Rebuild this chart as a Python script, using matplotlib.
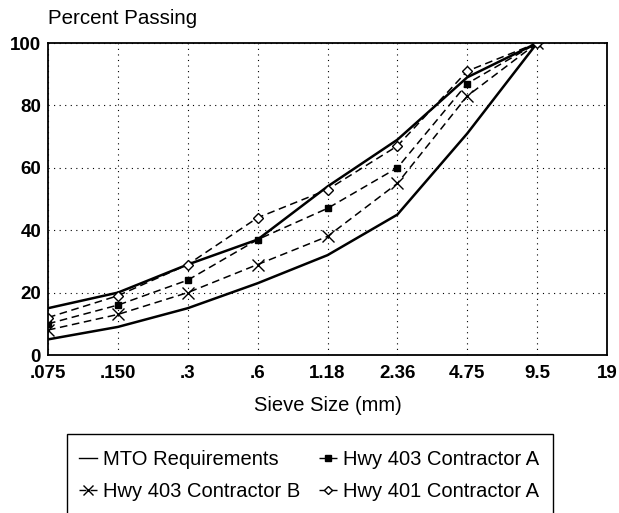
import matplotlib.pyplot as plt
from matplotlib.patches import Rectangle

plt.rcParams['font.family'] = ['Liberation Sans', 'DejaVu Sans']

sieves = ['.075', '.150', '.3', '.6', '1.18', '2.36', '4.75', '9.5', '19']

# MTO band (upper and lower limits), sieves .075 .. 9.5
mto_upper = [15, 20, 29, 37, 54, 69, 89, 100]
mto_lower = [5, 9, 15, 23, 32, 45, 71, 100]

hwy403_a = [10, 16, 24, 37, 47, 60, 87, 100]
hwy403_b = [8, 13, 20, 29, 38, 55, 83, 100]
hwy401_a = [12, 19, 29, 44, 53, 67, 91, 100]

W, H = 619, 513
fig = plt.figure(figsize=(W / 100, H / 100), dpi=100)
ax = fig.add_axes([48 / W, 1 - 355 / H, 559 / W, 312 / H])

x = list(range(len(mto_upper)))

l_mto, = ax.plot(x, mto_upper, '-', color='black', linewidth=1.8)
ax.plot(x, mto_lower, '-', color='black', linewidth=1.8)
l_a, = ax.plot(x, hwy403_a, '--', color='black', linewidth=1.1, dashes=(5, 3),
               marker='s', markersize=5, markerfacecolor='black')
l_b, = ax.plot(x, hwy403_b, '--', color='black', linewidth=1.1, dashes=(5, 3),
               marker='x', markersize=9, markeredgewidth=1.0)
l_401, = ax.plot(x, hwy401_a, '--', color='black', linewidth=1.1, dashes=(5, 3),
                 marker='D', markersize=5, markerfacecolor='white', markeredgewidth=1.0)

ax.set_xlim(0, len(sieves) - 1)
ax.set_ylim(0, 100)
ax.set_xticks(range(len(sieves)))
ax.set_xticklabels(sieves)
ax.set_yticks([0, 20, 40, 60, 80, 100])
ax.tick_params(length=0, labelsize=13.5)
ax.tick_params(axis='x', pad=7)
ax.tick_params(axis='y', pad=5)
for lab in ax.get_xticklabels() + ax.get_yticklabels():
    lab.set_fontweight('bold')
ax.grid(True, linestyle=(0, (1, 4)), color='black', linewidth=0.8)
for s in ax.spines.values():
    s.set_linewidth(1.3)

ax.set_xlabel('Sieve Size (mm)', fontsize=14.5, labelpad=10)
fig.text(48 / W, 1 - 18 / H, 'Percent Passing', fontsize=14.8, va='center', ha='left')

# legend box runs off the bottom of the page in the reference
fig.patches.append(Rectangle((67 / W, -0.05), (553 - 67) / W, 0.05 + 1 - 434 / H,
                             transform=fig.transFigure, fill=False,
                             edgecolor='black', linewidth=1.0))

# handles ordered so the two-column legend reads row by row like the reference
handles = [l_mto, l_b, l_a, l_401]
labels = ['MTO Requirements', 'Hwy 403 Contractor B', 'Hwy 403 Contractor A', 'Hwy 401 Contractor A']
leg = fig.legend(handles, labels, loc='upper left', bbox_to_anchor=(79 / W, 1 - 450 / H),
                 ncol=2, fontsize=14.5, handlelength=0.9, handletextpad=0.3,
                 columnspacing=0.9, borderpad=0, borderaxespad=0, labelspacing=0.65,
                 frameon=False, markerscale=0.75)
for ln in leg.get_lines():
    ln.set_linewidth(1.0)

fig.savefig('out.png', dpi=100)
